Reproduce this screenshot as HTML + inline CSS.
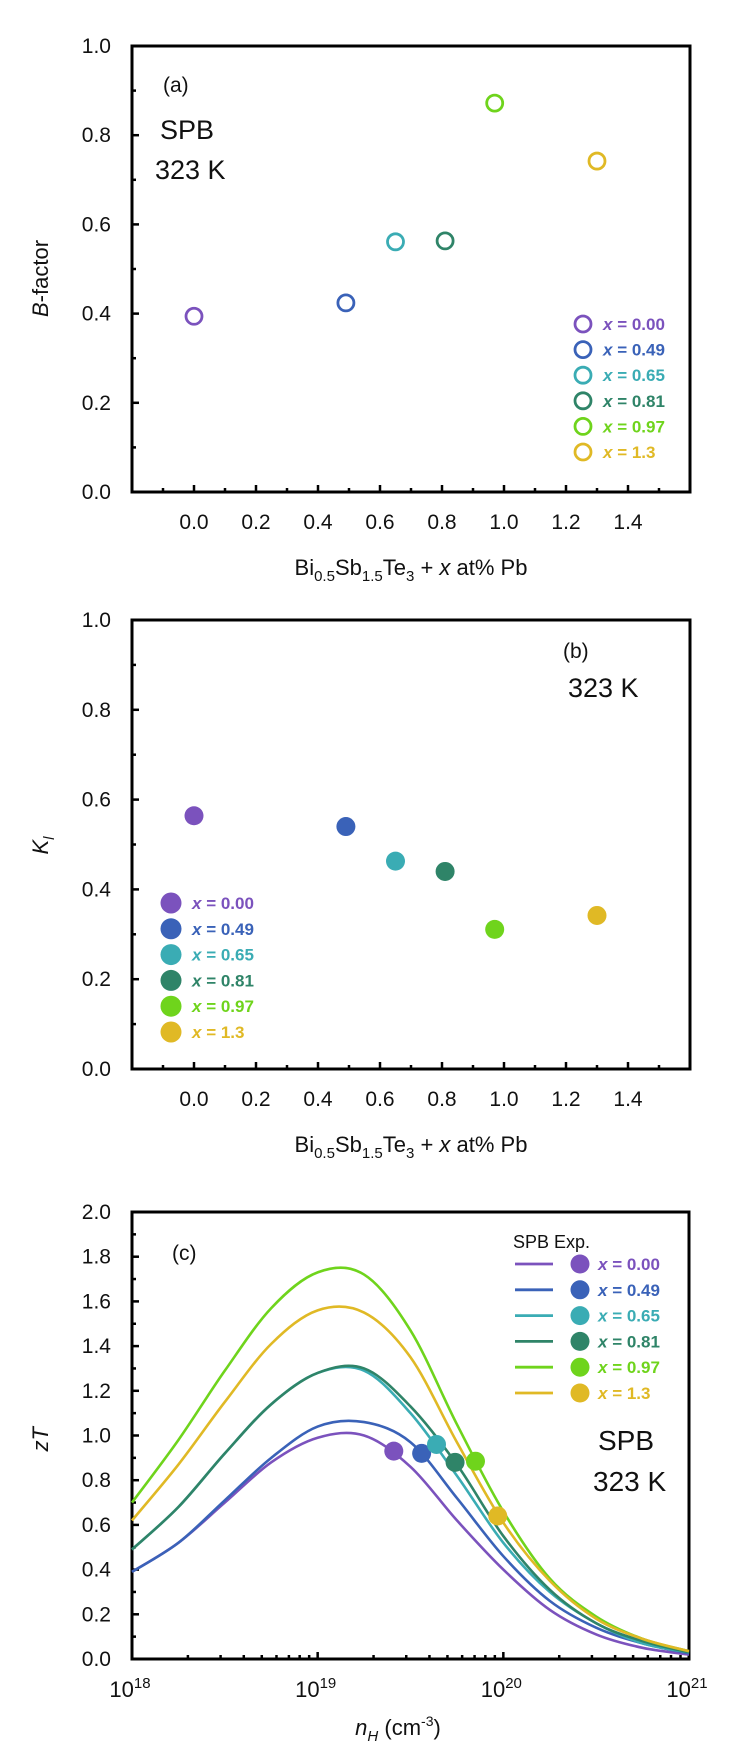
<!DOCTYPE html>
<html><head><meta charset="utf-8"><style>
html,body{margin:0;padding:0;background:#fff;}
svg{display:block;font-family:"Liberation Sans",sans-serif;}
</style></head><body>
<svg id="fig" width="734" height="1755" viewBox="0 0 734 1755" xmlns="http://www.w3.org/2000/svg"></svg>
<script>
const labels = ['x = 0.00','x = 0.49','x = 0.65','x = 0.81','x = 0.97','x = 1.3'];
const compositions = [0.00, 0.49, 0.65, 0.81, 0.97, 1.30];
const colors = ['#7b52bd','#3a62b8','#3aacb4','#2f8468','#6fd41c','#e0b925'];
const bFactor = [0.394, 0.424, 0.561, 0.563, 0.872, 0.742];
const kl = [0.564, 0.540, 0.463, 0.440, 0.311, 0.342];
const logN = [18,18.25,18.5,18.75,19,19.25,19.5,19.75,20,20.25,20.5,20.75,21];
const zt000 = [0.39,0.52,0.70,0.88,0.99,1.00,0.86,0.62,0.40,0.22,0.11,0.05,0.02];
const zt049 = [0.39,0.52,0.71,0.90,1.04,1.06,0.97,0.72,0.46,0.26,0.14,0.07,0.025];
const zt065 = [0.49,0.68,0.92,1.14,1.28,1.29,1.10,0.82,0.52,0.30,0.16,0.07,0.03];
const zt081 = [0.49,0.68,0.92,1.14,1.28,1.30,1.13,0.87,0.55,0.31,0.16,0.08,0.03];
const zt097 = [0.70,0.98,1.29,1.57,1.73,1.72,1.47,1.05,0.66,0.36,0.19,0.09,0.035];
const zt130 = [0.62,0.87,1.15,1.41,1.56,1.55,1.35,0.97,0.61,0.35,0.18,0.09,0.035];
const expLogN = [19.41,19.56,19.64,19.74,19.85,19.97];
const expZT = [0.93,0.92,0.96,0.88,0.885,0.64];
const linTicks = ['0.0','0.2','0.4','0.6','0.8','1.0','1.2','1.4'];
const yTicksAB = ['0.0','0.2','0.4','0.6','0.8','1.0'];
const yTicksC = ['0.0','0.2','0.4','0.6','0.8','1.0','1.2','1.4','1.6','1.8','2.0'];
const decadeExps = ['18','19','20','21'];

const NS='http://www.w3.org/2000/svg';
const svg=document.getElementById('fig');
function mk(tag,attrs,parent){const e=document.createElementNS(NS,tag);for(const k in attrs)e.setAttribute(k,attrs[k]);(parent||svg).appendChild(e);return e;}
function txt(s,attrs,parent){const e=mk('text',attrs,parent);e.textContent=s;return e;}

const L=132,R=690;
function linX(v){return L+(v+0.2)/1.8*(R-L);}
function panelY(top,bot,max){return v=>bot-(v/max)*(bot-top);}

function frame(g,top,bot){
  const r=mk('rect',{x:L,y:top,width:R-L,height:bot-top,fill:'none',stroke:'#000','stroke-width':3},g);
  
}
function yAxis(g,top,bot,ticks,max){
  const Y=panelY(top,bot,max);
  const step=max/(ticks.length-1);
  ticks.forEach((t,i)=>{const v=i*step;const y=Y(v);
    mk('line',{x1:L,y1:y,x2:L+7,y2:y,stroke:'#000','stroke-width':2.5},g);
    const tl=txt(t,{x:111,y:y+7,'text-anchor':'end','font-size':21,fill:'#111'},g);
    
    if(i<ticks.length-1){const ym=Y(v+step/2);mk('line',{x1:L,y1:ym,x2:L+4,y2:ym,stroke:'#000','stroke-width':2.5},g);}
  });
}
function xLinAxis(g,bot){
  linTicks.forEach((t)=>{const v=parseFloat(t);const x=linX(v);
    mk('line',{x1:x,y1:bot,x2:x,y2:bot-7,stroke:'#000','stroke-width':2.5},g);
    const tl=txt(t,{x:x,y:bot+37,'text-anchor':'middle','font-size':21,fill:'#111'},g);
    
  });
  for(let v=-0.1;v<1.6;v+=0.2){const x=linX(v);mk('line',{x1:x,y1:bot,x2:x,y2:bot-4,stroke:'#000','stroke-width':2.5},g);}
}
function xTitle(g,y){
  const t=mk('text',{x:411,y:y,'text-anchor':'middle','font-size':22,fill:'#111'},g);
  
  t.innerHTML='Bi<tspan font-size="15" dy="6">0.5</tspan><tspan dy="-6">Sb</tspan><tspan font-size="15" dy="6">1.5</tspan><tspan dy="-6">Te</tspan><tspan font-size="15" dy="6">3</tspan><tspan dy="-6"> + </tspan><tspan font-style="italic">x</tspan> at% Pb';
}
function legendText(g,i,x,y){
  const t=mk('text',{x:x,y:y+6,'font-size':17,'font-weight':'bold',fill:colors[i]},g);
  t.innerHTML='<tspan font-style="italic">x</tspan>'+labels[i].slice(1);
  
}

// Panel A
(function(){
  const top=46,bot=492,Y=panelY(top,bot,1);
  const g=mk('g',{});
  frame(g,top,bot);yAxis(g,top,bot,yTicksAB,1);xLinAxis(g,bot);xTitle(g,575);
  const yt=txt('-factor',{x:0,y:0,'font-size':22,fill:'#111',transform:'translate(48,'+((top+bot)/2+48)+') rotate(-90)'},g);
  yt.innerHTML='<tspan font-style="italic">B</tspan>-factor';
  
  let t=txt('(a)',{x:163,y:92,'font-size':21,fill:'#111'},g);
  t=txt('SPB',{x:160,y:139,'font-size':27,fill:'#111'},g);
  t=txt('323 K',{x:155,y:179,'font-size':27,fill:'#111'},g);
  compositions.forEach((c,i)=>{
    const m=mk('circle',{cx:linX(c),cy:Y(bFactor[i]),r:8,fill:'none',stroke:colors[i],'stroke-width':2.8},g);
    
    const ly=324+i*25.6;
    const lm=mk('circle',{cx:583,cy:ly,r:8,fill:'none',stroke:colors[i],'stroke-width':2.8},g);
    
    legendText(g,i,603,ly);
  });
})();

// Panel B
(function(){
  const top=620,bot=1069,Y=panelY(top,bot,1);
  const g=mk('g',{});
  frame(g,top,bot);yAxis(g,top,bot,yTicksAB,1);xLinAxis(g,bot);xTitle(g,1152);
  const yt=mk('text',{x:0,y:0,'font-size':22,fill:'#111',transform:'translate(48,'+((top+bot)/2+10)+') rotate(-90)'},g);
  yt.innerHTML='<tspan font-style="italic">K</tspan><tspan font-style="italic" font-size="15" dy="6">l</tspan>';
  
  let t=txt('(b)',{x:563,y:658,'font-size':21,fill:'#111'},g);
  t=txt('323 K',{x:568,y:697,'font-size':27,fill:'#111'},g);
  compositions.forEach((c,i)=>{
    const m=mk('circle',{cx:linX(c),cy:Y(kl[i]),r:9.5,fill:colors[i]},g);
    
    const ly=903+i*25.8;
    const lm=mk('circle',{cx:171,cy:ly,r:10.5,fill:colors[i]},g);
    
    legendText(g,i,192,ly);
  });
})();

// Panel C
(function(){
  const top=1212,bot=1659,Y=panelY(top,bot,2);
  const X=l=>L+(l-18)/3*(689-L);
  const g=mk('g',{});
  const r=mk('rect',{x:L,y:top,width:689-L,height:bot-top,fill:'none',stroke:'#000','stroke-width':3},g);
  
  yAxis(g,top,bot,yTicksC,2);
  decadeExps.forEach(e=>{const x=X(+e);
    mk('line',{x1:x,y1:bot,x2:x,y2:bot-7,stroke:'#000','stroke-width':2.5},g);
    const tl=mk('text',{x:x-2,y:bot+38,'text-anchor':'middle','font-size':22,fill:'#111'},g);
    tl.innerHTML='10<tspan font-size="15" dy="-9">'+e+'</tspan>';
    
    if(+e<21)for(let k=2;k<10;k++){const xm=X(+e+Math.log10(k));mk('line',{x1:xm,y1:bot,x2:xm,y2:bot-4,stroke:'#000','stroke-width':2.5},g);}
  });
  const xt=mk('text',{x:398,y:1735,'text-anchor':'middle','font-size':22,fill:'#111'},g);
  xt.innerHTML='<tspan font-style="italic">n</tspan><tspan font-style="italic" font-size="15" dy="6">H</tspan><tspan dy="-6"> (cm</tspan><tspan font-size="14" dy="-9">-3</tspan><tspan dy="9">)</tspan>';
  
  const yt=mk('text',{x:0,y:0,'font-size':22,fill:'#111','font-style':'italic',transform:'translate(48,'+((top+bot)/2+16)+') rotate(-90)'},g);
  yt.textContent='zT';
  let t=txt('(c)',{x:172,y:1260,'font-size':21,fill:'#111'},g);
  t=txt('SPB',{x:598,y:1450,'font-size':28,fill:'#111'},g);
  t=txt('323 K',{x:593,y:1491,'font-size':28,fill:'#111'},g);
  const series=[zt000,zt049,zt065,zt081,zt097,zt130];
  function smooth(pts){let d='M'+pts[0][0]+','+pts[0][1];
    for(let i=0;i<pts.length-1;i++){const p0=pts[i-1]||pts[i],p1=pts[i],p2=pts[i+1],p3=pts[i+2]||p2;
      d+=' C'+(p1[0]+(p2[0]-p0[0])/6)+','+(p1[1]+(p2[1]-p0[1])/6)+' '+(p2[0]-(p3[0]-p1[0])/6)+','+(p2[1]-(p3[1]-p1[1])/6)+' '+p2[0]+','+p2[1];}
    return d;}
  series.forEach((s,i)=>{
    const pts=logN.map((l,j)=>[X(l),Y(s[j])]);
    const p=mk('path',{d:smooth(pts),fill:'none',stroke:colors[i],'stroke-width':2.6},g);
    
  });
  expLogN.forEach((l,i)=>{
    const c=mk('circle',{cx:X(l),cy:Y(expZT[i]),r:9.5,fill:colors[i]},g);
    
  });
  t=txt('SPB  Exp.',{x:513,y:1248,'font-size':18,fill:'#111'},g);
  compositions.forEach((c,i)=>{
    const ly=1264+i*25.8;
    const ll=mk('line',{x1:515,y1:ly,x2:553,y2:ly,stroke:colors[i],'stroke-width':2.8},g);
    
    const lm=mk('circle',{cx:580,cy:ly,r:9.5,fill:colors[i]},g);
    
    legendText(g,i,598,ly);
  });
})();
</script>
</body></html>
